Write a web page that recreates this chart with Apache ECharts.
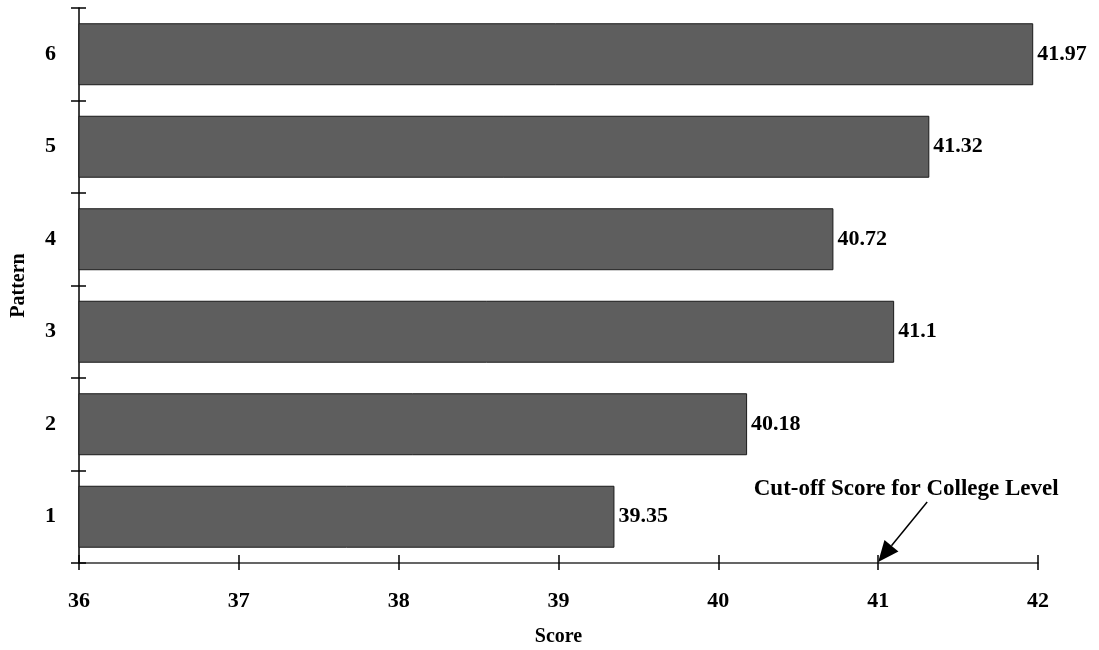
<!DOCTYPE html>
<html>
<head>
<meta charset="utf-8">
<script src="https://cdn.jsdelivr.net/npm/echarts@6/dist/echarts.min.js"></script>
<style>
html,body{margin:0;padding:0;background:#fff;}
#chart{width:1099px;height:650px;}
</style>
</head>
<body>
<div id="chart"></div>
<script>
const categories = ['1', '2', '3', '4', '5', '6'];
const scores = [39.35, 40.18, 41.1, 40.72, 41.32, 41.97];
const xTicks = [36, 37, 38, 39, 40, 41, 42];
const cutoffScore = 41;
const cutoffText = 'Cut-off Score for College Level';

const font = 'Liberation Serif';
const tickFont = {fontFamily: font, fontWeight: 'bold', fontSize: 22, color: '#000'};
const nameFont = {fontFamily: font, fontWeight: 'bold', fontSize: 20, color: '#000'};
const xMin = xTicks[0], xMax = xTicks[xTicks.length - 1];

const chart = echarts.init(document.getElementById('chart'));
chart.setOption({
  backgroundColor: '#fff',
  animation: false,
  grid: {left: 79, right: 61, top: 8, bottom: 87, outerBoundsMode: 'none', containLabel: false},
  xAxis: [{
    type: 'value', min: xMin, max: xMax, interval: 1,
    name: 'Score', nameLocation: 'middle', nameGap: 64, nameTextStyle: nameFont,
    axisLine: {show: true, lineStyle: {color: '#333', width: 1.5}},
    axisTick: {show: true, inside: true, length: 8, lineStyle: {color: '#000', width: 1.5}},
    axisLabel: Object.assign({margin: 27}, tickFont),
    splitLine: {show: false}
  }, {
    type: 'value', min: xMin, max: xMax, interval: 1, position: 'bottom',
    axisLine: {show: false},
    axisTick: {show: true, length: 7, lineStyle: {color: '#000', width: 1.5}},
    axisLabel: {show: false}, splitLine: {show: false}
  }],
  yAxis: [{
    type: 'category', data: categories,
    name: 'Pattern', nameLocation: 'middle', nameGap: 50, nameTextStyle: nameFont,
    axisLine: {show: true, lineStyle: {color: '#000', width: 1.5}},
    axisTick: {show: true, length: 8, lineStyle: {color: '#000', width: 1.5}},
    axisLabel: Object.assign({margin: 23}, tickFont)
  }, {
    type: 'category', data: categories, position: 'left',
    axisLine: {show: false},
    axisTick: {show: true, inside: true, length: 7, lineStyle: {color: '#000', width: 1.5}},
    axisLabel: {show: false}
  }],
  series: [{
    type: 'bar', data: scores, xAxisIndex: 0, yAxisIndex: 0,
    barCategoryGap: '33%',
    itemStyle: {color: '#5e5e5e', borderColor: '#1a1a1a', borderWidth: 1},
    label: {
      show: true, position: 'right', distance: 4,
      fontFamily: font, fontWeight: 'bold', fontSize: 22, color: '#000',
      formatter: p => String(p.value)
    }
  }]
});

// Annotation arrow anchored to the cut-off score on the axis
const base = chart.convertToPixel({xAxisIndex: 0, yAxisIndex: 0}, [cutoffScore, 0]);
const rect = chart.getModel().getComponent('grid').coordinateSystem.getRect();
const tipX = base[0], tipY = rect.y + rect.height - 1;
const tailX = tipX + 49, tailY = tipY - 60;
const ang = Math.atan2(tipY - tailY, tipX - tailX);
const hl = 21, hw = 9;
const bx = tipX - hl * Math.cos(ang), by = tipY - hl * Math.sin(ang);
const px = -Math.sin(ang) * hw, py = Math.cos(ang) * hw;
chart.setOption({
  graphic: [
    {type: 'line', shape: {x1: tailX, y1: tailY, x2: bx, y2: by}, style: {stroke: '#000', lineWidth: 1.5}},
    {type: 'polygon', shape: {points: [[tipX, tipY], [bx + px, by + py], [bx - px, by - py]]}, style: {fill: '#000'}},
    {type: 'text', x: tailX - 21, y: tailY - 1, style: {text: cutoffText, fontFamily: font, fontWeight: 'bold', fontSize: 23, fill: '#000', align: 'center', verticalAlign: 'bottom'}}
  ]
});
</script>
</body>
</html>
